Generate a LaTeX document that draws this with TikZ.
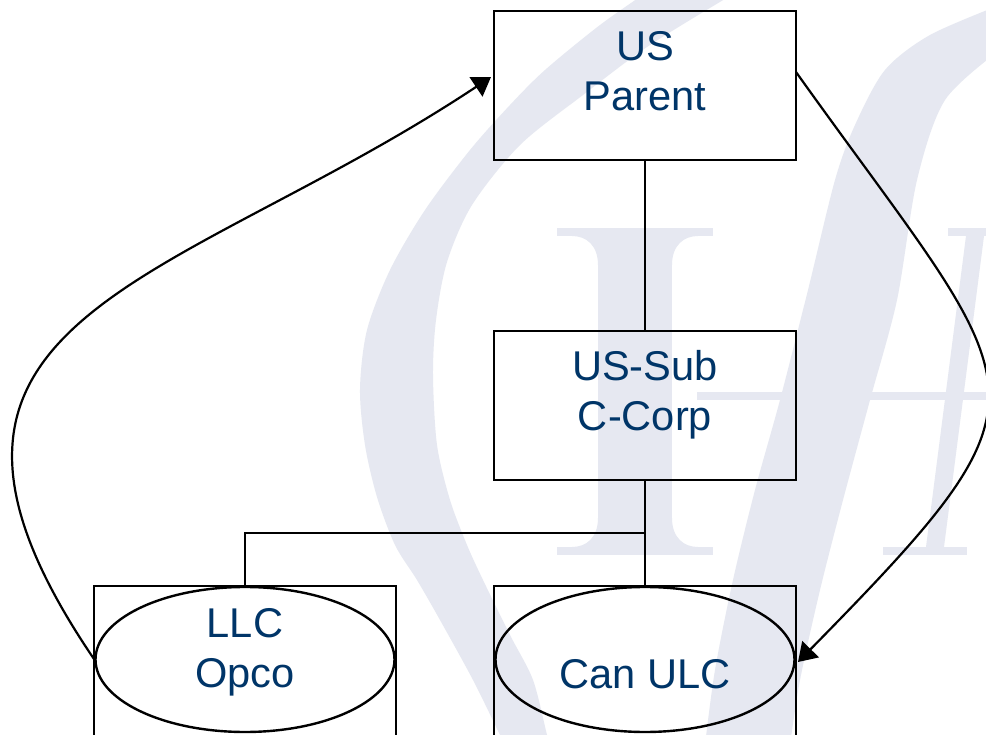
\documentclass[tikz,border=0pt]{standalone}
\usepackage{fontspec}
\setmainfont{Liberation Sans}
\usetikzlibrary{arrows.meta,shapes.geometric}
\definecolor{wm}{RGB}{230,232,241}
\definecolor{txtblue}{RGB}{0,53,104}
\begin{document}
\begin{tikzpicture}[x=1pt,y=-1pt,
  boxst/.style={draw=black,line width=2.4pt,rectangle,inner sep=0pt,minimum width=302pt},
  ellst/.style={draw=black,line width=2.4pt,ellipse,inner sep=0pt,minimum width=299pt,minimum height=145pt},
  lbl/.style={text=txtblue,font=\fontsize{41.6}{50}\selectfont,align=center,inner sep=0pt,anchor=base},
  conn/.style={line width=2.4pt,draw=black},
  arr/.style={line width=2.2pt,draw=black,-{Triangle[length=18pt,width=23pt]}},
  wmark/.style={fill=wm,draw=none}]
\useasboundingbox (0,0) rectangle (986,735);
\clip (0,0) rectangle (986,735);
\fill[white] (0,0) rectangle (986,735);

% watermark: big italic O
\fill[wmark] plot[smooth] coordinates {(650,-10) (600,25) (545,70) (510,105) (470,150) (425,210) (390,270) (367,330) (360,389) (365,445) (377,497) (395,545) (417,580) (440,620) (473,680) (500,735) (505,745)}
  -- plot[smooth] coordinates {(550,745) (547,735) (533,680) (510,635) (483,580) (467,545) (450,500) (437,445) (433,375) (436,320) (447,262) (472,205) (520,145) (583,95) (650,45) (740,-10)} -- cycle;
\fill[wmark] plot[smooth] coordinates {(1000,5) (930,35) (885,70) (855,125) (835,180) (808,290) (780,400) (755,490) (733,580) (715,670) (705,745)}
  -- plot[smooth] coordinates {(790,745) (800,680) (820,590) (843,500) (870,400) (897,300) (917,180) (945,100) (1000,50)} -- cycle;
% watermark: serif letters
\fill[wmark] (598,236) rectangle (672,547);
\fill[wmark] (557,228) rectangle (713,236);
\fill[wmark] (557,547) rectangle (713,555);
\fill[wmark] (572,236) -- (598,236) -- (598,265) .. controls (598,245) and (586,236) .. cycle;
\fill[wmark] (698,236) -- (672,236) -- (672,265) .. controls (672,245) and (684,236) .. cycle;
\fill[wmark] (572,547) -- (598,547) -- (598,518) .. controls (598,538) and (586,547) .. cycle;
\fill[wmark] (698,547) -- (672,547) -- (672,518) .. controls (672,538) and (684,547) .. cycle;
\fill[wmark] (697,392) rectangle (986,400);
\fill[wmark] (966,236) -- (984,236) -- (944,547) -- (926,547) -- cycle;
\fill[wmark] (948,228) rectangle (1000,236);
\fill[wmark] (883,547) rectangle (967,555);

% boxes
\node[boxst,minimum height=149pt] (parent) at (645,85.5) {};
\node[boxst,minimum height=149pt] (sub) at (645,405.5) {};
\node[boxst,minimum height=300pt] (llcbox) at (245,736) {};
\node[boxst,minimum height=300pt] (canbox) at (645,736) {};
\node[ellst] (llc) at (245,659.5) {};
\node[ellst] (can) at (645,659.5) {};

% labels (base anchor = baseline of the last line)
\node[lbl] (parentT) at (645,111) {US\\Parent};
\node[lbl] (subT) at (645,431) {US-Sub\\C-Corp};
\node[lbl] (llcT) at (245,687) {LLC\\Opco};
\node[lbl] (canT) at (645,688) {Can ULC};

% connectors
\draw[conn] (parent.south) -- (sub.north);
\draw[conn] (sub.south) -- (canbox.north);
\coordinate (jn) at (645,533);
\draw[conn] (jn) -| (llcbox.north);
\coordinate (pin) at (491,77);
\draw[arr] (llc.west) .. controls (-140,315) and (170,290) .. (pin);
\coordinate (pout) at (796,72);
\coordinate (cin) at (798,662);
\draw[arr] (pout) .. controls (1030,400) and (1070,385) .. (cin);
\end{tikzpicture}
\end{document}
